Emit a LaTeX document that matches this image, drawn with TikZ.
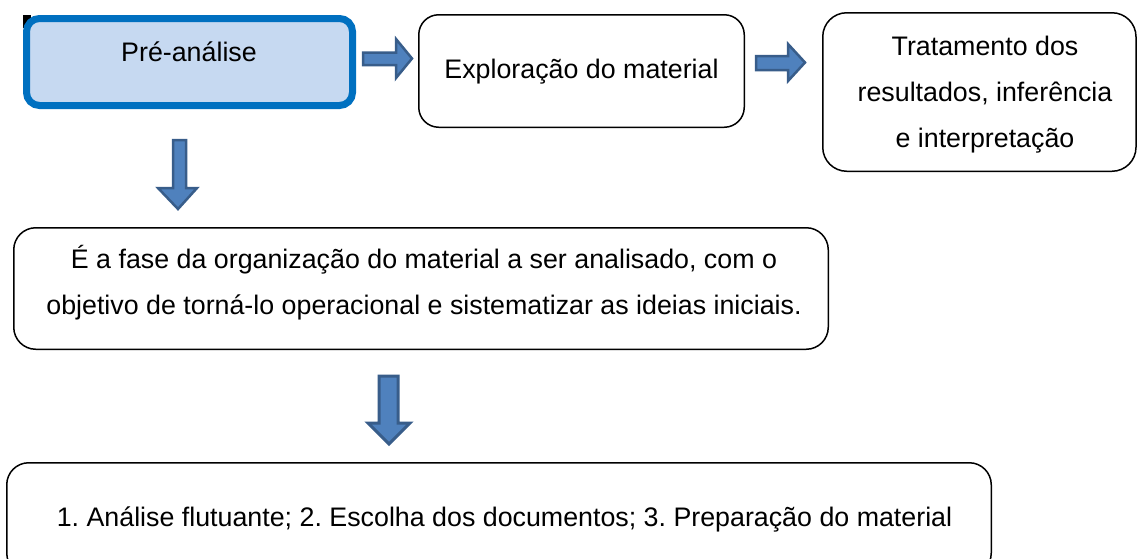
\documentclass[tikz,border=0pt]{standalone}
\usepackage{fontspec}
\setmainfont{Liberation Sans}
\begin{document}
\frenchspacing
\begin{tikzpicture}[x=1pt,y=-1pt,
  box/.style={draw=black,line width=1.5pt,rounded corners=20pt,fill=white},
  firstbox/.style={draw=boxblue,line width=7pt,rounded corners=13pt,fill=lightblue},
  txt/.style={inner sep=0pt,anchor=base,font=\fontsize{26.8}{30}\selectfont},
  blockarrow/.style={fill=arrowfill,draw=arrowedge,line width=2.5pt,line join=miter}]
\definecolor{boxblue}{HTML}{0070C0}
\definecolor{lightblue}{HTML}{C6D9F1}
\definecolor{arrowfill}{HTML}{4F81BD}
\definecolor{arrowedge}{HTML}{385D8A}
\useasboundingbox (0,0) rectangle (1137,558);
\clip (0,0) rectangle (1137,558);
\fill[white] (0,0) rectangle (1137,558);
% small black mark behind first box
\fill[black] (23,15) rectangle (31,28);
% boxes
\draw[firstbox] (26.5,18.5) rectangle (352.5,105.5);
\coordinate (pre) at (189.5,62);
\draw[box] (418.75,14.75) rectangle (744.25,127.25);
\coordinate (exp) at (581.5,71);
\draw[box,rounded corners=24pt] (822.75,12.75) rectangle (1136,171.25);
\coordinate (tra) at (980,92);
\draw[box,rounded corners=22pt] (13.75,227.75) rectangle (828.25,349.25);
\coordinate (mid) at (421,288.5);
\draw[box,rounded corners=22pt] (6.75,462.75) rectangle (991.25,575);
\coordinate (bot) at (499,515);
% texts
\node[txt] (t1) at (189,61) {Pré-análise};
\node[txt] (t2) at (581.5,78.5) {Exploração do material};
\node[txt] (t3a) at (985,55) {Tratamento dos};
\node[txt] (t3b) at (985,101) {resultados, inferência};
\node[txt] (t3c) at (985,147) {e interpretação};
\node[txt] (t4a) at (424,268) {É a fase da organização do material a ser analisado, com o};
\node[txt] (t4b) at (424,314) {objetivo de torná-lo operacional e sistematizar as ideias iniciais.};
\node[txt] (t5) at (504.5,526) {1. Análise flutuante; 2. Escolha dos documentos; 3. Preparação do material};
% block arrows
\draw[blockarrow] (363,52.5)--(396,52.5)--(396,39)--(412,58.5)--(396,78)--(396,65)--(363,65)--cycle;
\draw[blockarrow] (756,56)--(788,56)--(788,44)--(805,62.5)--(788,81)--(788,70)--(756,70)--cycle;
\draw[blockarrow] (173,140)--(186,140)--(186,188)--(197,188)--(178,209)--(158,188)--(173,188)--cycle;
\draw[blockarrow,line width=3pt] (379,376)--(398,376)--(398,423)--(410,423)--(389,444)--(368,423)--(379,423)--cycle;
\end{tikzpicture}
\end{document}
